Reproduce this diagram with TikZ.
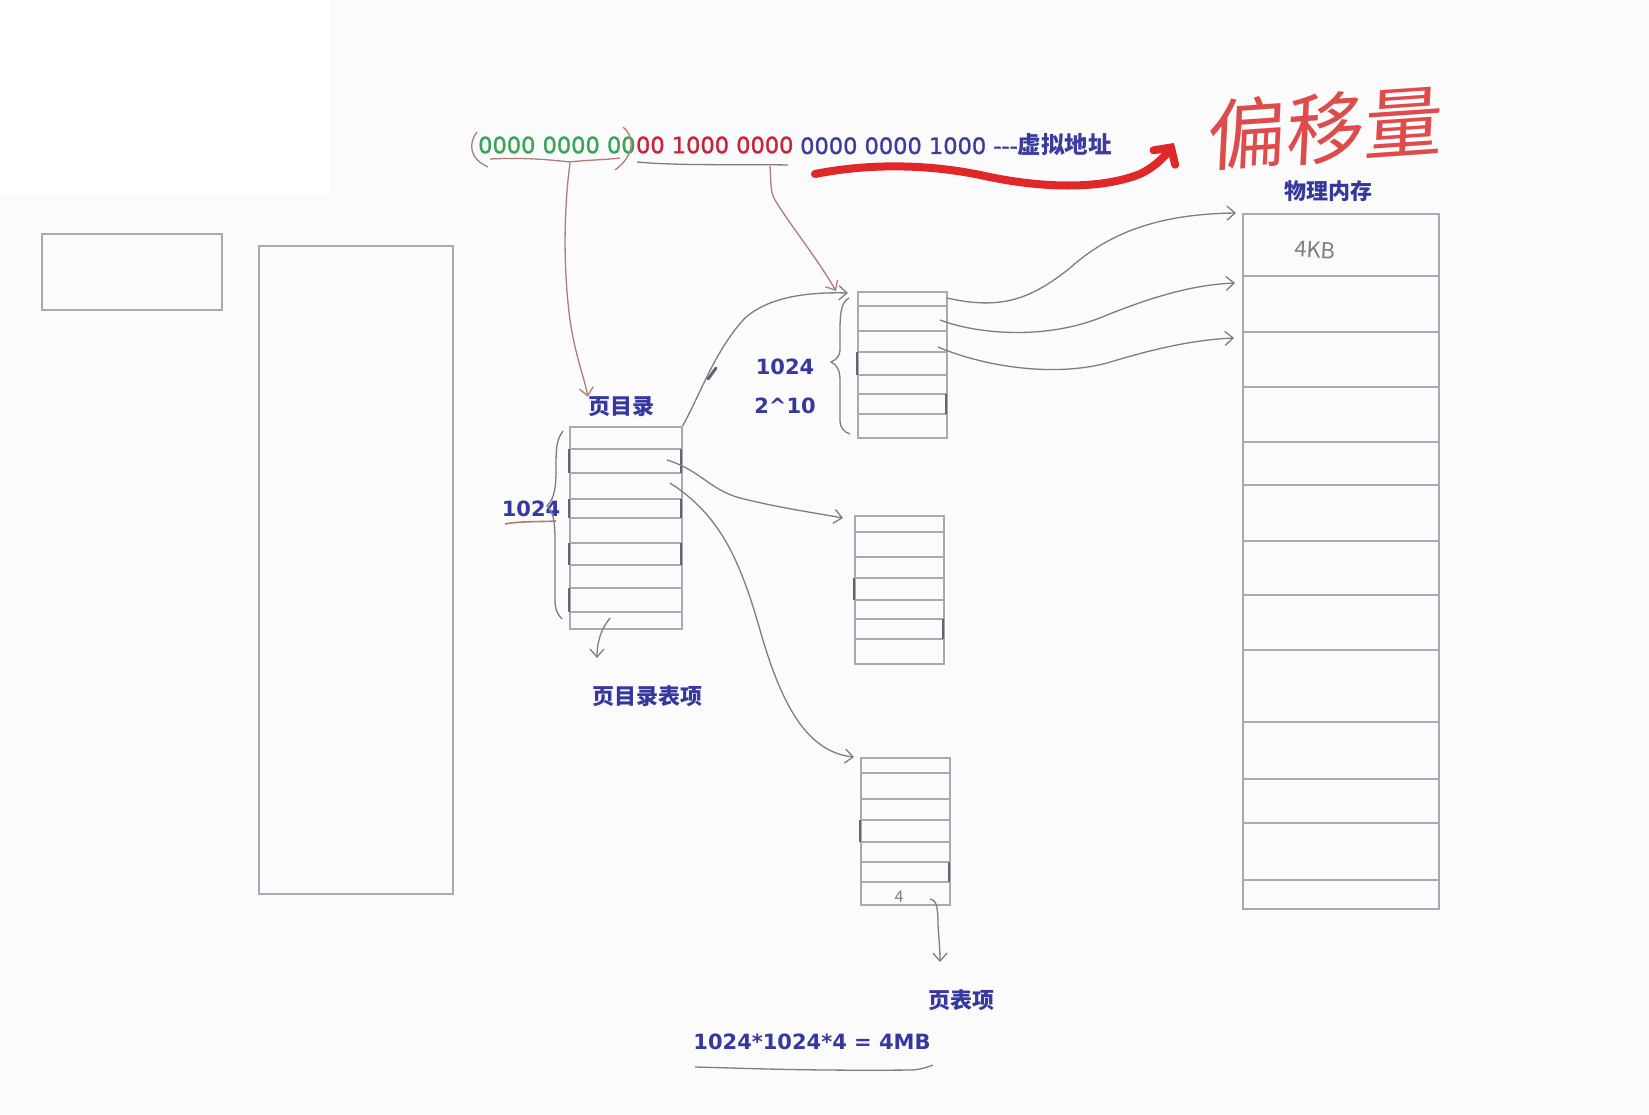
\documentclass[tikz,border=0pt]{standalone}
\usepackage{fontspec}
\setmainfont{Noto Sans CJK SC}
\newfontfamily\numfont{DejaVu Sans}
\newfontfamily\addrfont[FakeBold=1.3]{DejaVu Sans}
\usetikzlibrary{arrows.meta}
\definecolor{bgc}{RGB}{251,251,252}
\definecolor{boxline}{RGB}{168,168,185}
\definecolor{darkline}{RGB}{100,100,115}
\definecolor{penc}{RGB}{125,125,130}
\definecolor{penred}{RGB}{175,125,120}
\definecolor{addrgreen}{RGB}{55,165,85}
\definecolor{addrred}{RGB}{200,35,55}
\definecolor{addrblue}{RGB}{60,60,160}
\definecolor{labelblue}{RGB}{55,55,160}
\definecolor{markred}{RGB}{225,40,40}
\definecolor{handred}{RGB}{222,75,75}
\begin{document}
\begin{tikzpicture}[x=1pt,y=-1pt,
  box/.style={draw=boxline, line width=1.6pt, inner sep=0pt, anchor=north west},
  rowline/.style={draw=boxline, line width=1.6pt},
  darkedge/.style={draw=darkline, line width=2.4pt},
  pen/.style={draw=penc, line width=1.3pt},
  penarrow/.style={pen, -{Straight Barb[length=8pt,width=14pt]}},
  redpen/.style={draw=penred, line width=1.3pt},
  redpenarrow/.style={redpen, -{Straight Barb[length=8pt,width=14pt]}},
  lbl/.style={text=labelblue, font=\fontsize{22}{26}\selectfont\bfseries, inner sep=0pt},
  numlbl/.style={text=labelblue, font=\numfont\fontsize{21}{25}\selectfont\bfseries, inner sep=0pt},
  addr/.style={font=\addrfont\fontsize{22.5}{27}\selectfont, inner sep=0pt, anchor=west},
  handgray/.style={text=penc, inner sep=0pt}
]
\useasboundingbox (0,0) rectangle (1649,1114);
\fill[bgc] (0,0) rectangle (1649,1114);
\fill[white] (0,0) rectangle (330,195);

% left rectangles
\node[box, minimum width=180pt, minimum height=76pt] (small) at (41,233) {};
\node[box, minimum width=194pt, minimum height=648pt] (tall) at (258,245) {};

% virtual address
\node[addr, text=addrgreen] (vg) at (478,145) {0000 0000 00};
\node[addr, text=addrred] (vr) at (vg.east) {00 1000 0000};
\node[addr, text=addrblue] (vb) at (800,145) {0000 0000 1000 -{}-{}-{\fontsize{23.5}{28}\selectfont\rmfamily\bfseries 虚拟地址}};

% hand marks around green part
\draw[redpen] (477,132) .. controls (469,142) and (468,158) .. (488,167);
\draw[redpen] (623,127) .. controls (634,135) and (636,155) .. (615,170);
\draw[redpen] (490,159) .. controls (530,157) and (560,161) .. (570,162) .. controls (585,160) and (605,160) .. (620,158);
\draw[pen] (637,162) .. controls (680,166) and (740,164) .. (788,165);
\coordinate (gstart) at (570,163);
\coordinate (rstart) at (770,166);

% red marker arrow
\coordinate (mstart) at (815,174);
\coordinate (mend) at (1174,143);
\draw[markred, line width=8pt, line cap=round, -{Straight Barb[length=12pt,width=26pt,line cap=round]}]
  (mstart) .. controls (860,165) and (920,162) .. (985,176) .. controls (1040,188) and (1100,190) .. (1140,174) .. controls (1155,167) and (1166,155) .. (mend);

% handwritten offset
\node[text=handred, font=\fontsize{78}{84}\selectfont, inner sep=0pt, xslant=0.12, rotate=4] (off) at (1326,128) {偏移量};

% page directory
\node[box, minimum width=112pt, minimum height=202pt] (pd) at (569,426) {};
\foreach \y in {449,473,499,518,543,565,588,612} \draw[rowline] (569,\y) -- (681,\y);
\foreach \a/\b in {449/473,499/518,543/565,588/612} \draw[darkedge] (569,\a) -- (569,\b);
\foreach \a/\b in {449/473,499/518,543/565} \draw[darkedge] (681,\a) -- (681,\b);
\node[lbl] (pdl) at (621,407) {页目录};
\node[numlbl] (n1024a) at (531,509) {1024};
\draw[draw=penred, line width=1.6pt] (505,524) .. controls (520,521) and (540,522) .. (556,521);
\draw[pen] (563,431) .. controls (556,440) and (556,450) .. (556,470) .. controls (556,495) and (552,500) .. (547,506) .. controls (553,512) and (555,520) .. (555,540) -- (555,600) .. controls (555,610) and (558,615) .. (562,619);
\coordinate (pdb) at (610,618);
\coordinate (pdbe) at (597,658);
\draw[penarrow] (pdb) .. controls (602,628) and (597,640) .. (pdbe);
\node[lbl] (pde) at (647,696) {页目录表项};

% top page table
\node[box, minimum width=89pt, minimum height=146pt] (tt) at (857,291) {};
\foreach \y in {306,331,352,375,394,414} \draw[rowline] (857,\y) -- (946,\y);
\draw[darkedge] (857,352) -- (857,375);
\draw[darkedge] (946,394) -- (946,414);
\node[numlbl] (n1024b) at (785,367) {1024};
\node[numlbl] (n210) at (785,406) {2\^{}10};
\draw[pen] (849,298) .. controls (842,302) and (840,310) .. (840,330) -- (840,350) .. controls (840,356) and (836,360) .. (831,362) .. controls (837,365) and (840,370) .. (840,380) -- (840,420) .. controls (840,428) and (844,432) .. (850,434);

% middle page table
\node[box, minimum width=89pt, minimum height=148pt] (mt) at (854,515) {};
\foreach \y in {532,557,578,600,619,639} \draw[rowline] (854,\y) -- (943,\y);
\draw[darkedge] (854,578) -- (854,600);
\draw[darkedge] (943,619) -- (943,639);

% bottom page table
\node[box, minimum width=89pt, minimum height=147pt] (bt) at (860,757) {};
\foreach \y in {773,799,820,842,862,882} \draw[rowline] (860,\y) -- (949,\y);
\draw[darkedge] (860,820) -- (860,842);
\draw[darkedge] (949,862) -- (949,882);
\node[handgray, font=\fontsize{16}{18}\selectfont] (four) at (899,897) {4};
\coordinate (btb) at (930,899);
\coordinate (btbe) at (940,962);
\draw[penarrow] (btb) .. controls (936,900) and (938,905) .. (938,925) .. controls (939,940) and (940,950) .. (btbe);
\node[lbl] (pte) at (961,1000) {页表项};
\node[numlbl] (calc) at (812,1042) {1024*1024*4 = 4MB};
\draw[pen] (695,1067) .. controls (740,1068) and (800,1071) .. (913,1070) .. controls (922,1069) and (928,1067) .. (933,1065);

% physical memory
\node[lbl] (pml) at (1328,191) {物理内存};
\node[box, minimum width=196pt, minimum height=695pt] (pm) at (1242,213) {};
\foreach \y in {276,332,387,442,485,541,595,650,722,779,823,880} \draw[rowline] (1242,\y) -- (1438,\y);
\node[handgray, font=\fontsize{22}{24}\selectfont, rotate=-3] (kb) at (1315,250) {4KB};

% address to tables
\draw[redpenarrow] (gstart) .. controls (565,200) and (562,260) .. (570,320) .. controls (575,355) and (585,380) .. (pdl.north west);
\draw[redpenarrow] (rstart) .. controls (771,180) and (770,192) .. (775,200) .. controls (790,225) and (815,255) .. ([xshift=-21pt]tt.north west);

% directory to page tables
\coordinate (pd1) at (667,460);
\coordinate (pd2) at (670,483);
\draw[penarrow] (pd.north east) .. controls (700,395) and (715,350) .. (745,318) .. controls (770,296) and (810,292) .. ([xshift=-9pt,yshift=-2pt]tt.north west);
\draw[darkline, line width=3pt, line cap=round] (708,379) -- (716,368);
\draw[penarrow] (pd1) .. controls (700,470) and (710,490) .. (740,498) .. controls (780,508) and (810,512) .. ([xshift=-11pt,yshift=-3pt]mt.north west);
\draw[penarrow] (pd2) .. controls (720,515) and (740,560) .. (760,630) .. controls (780,700) and (805,752) .. ([xshift=-6pt]bt.north west);

% top table to physical memory
\coordinate (t1) at (947,298);
\coordinate (t2) at (940,320);
\coordinate (t3) at (938,347);
\draw[penarrow] (t1) .. controls (1000,310) and (1030,300) .. (1070,268) .. controls (1110,232) and (1160,214) .. ([xshift=-6pt]pm.north west);
\draw[penarrow] (t2) .. controls (980,335) and (1050,340) .. (1107,315) .. controls (1150,298) and (1190,285) .. ([xshift=-7pt,yshift=-70pt]pm.north west);
\draw[penarrow] (t3) .. controls (980,365) and (1050,378) .. (1107,363) .. controls (1150,350) and (1190,340) .. ([xshift=-8pt,yshift=-125pt]pm.north west);
\end{tikzpicture}
\end{document}
